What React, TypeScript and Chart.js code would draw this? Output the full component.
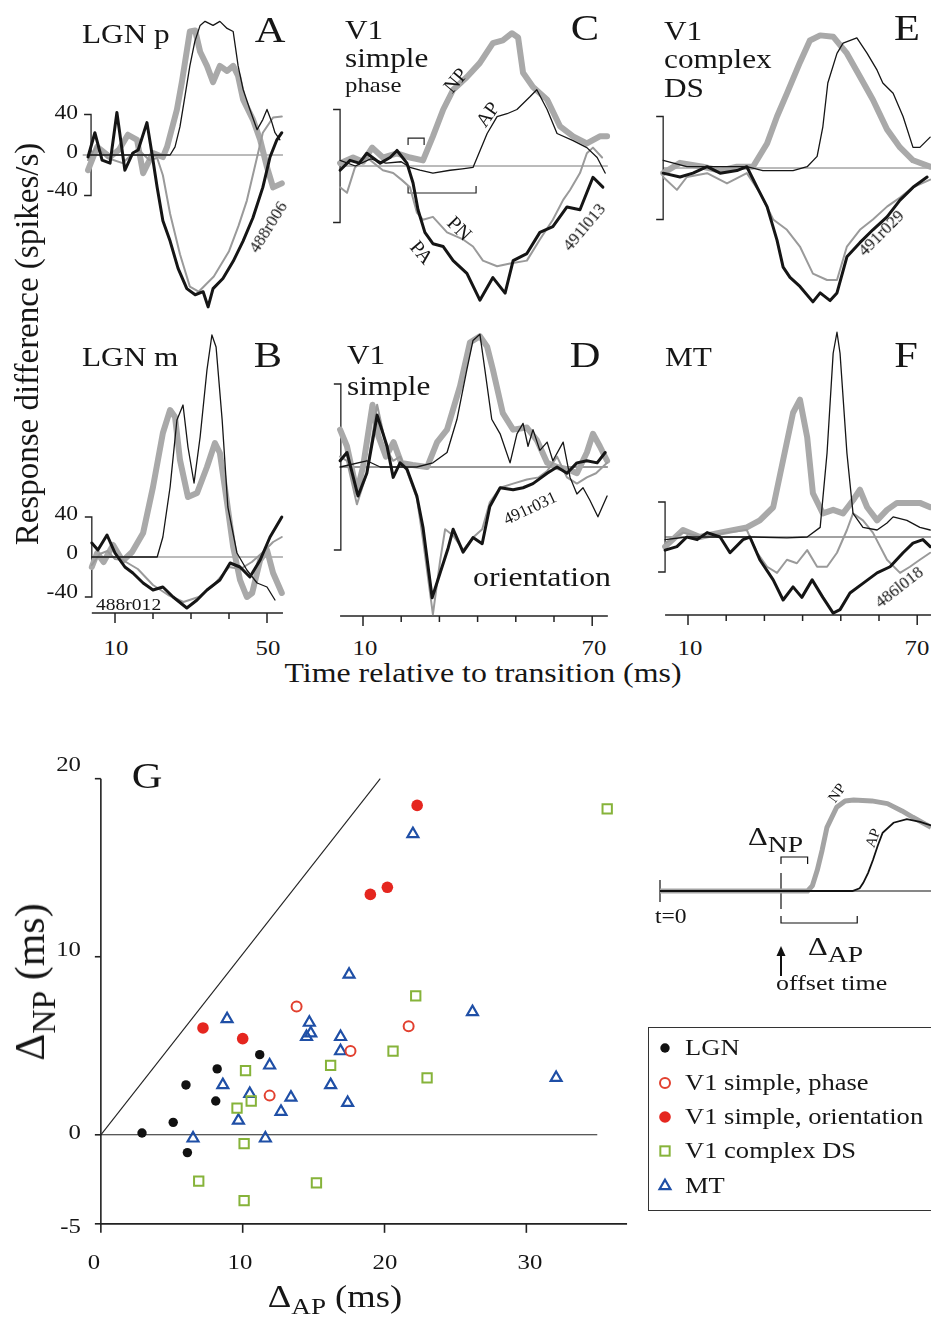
import React, { useEffect, useRef } from 'react';
import { Chart, registerables } from 'chart.js';

Chart.register(...registerables);

type Pt = [number, number];

// ---------------- Panel A (LGN p) : time (ms), response difference (spikes/s)
const A_NP: Pt[] = [[2.9,-15],[5.3,8],[8.7,-2],[11,5],[13.4,20],[15.8,15],[17.4,-18],[20.0,2],[22.6,-2],[23.7,8],[26.3,45],[27.6,72],[29.7,122],[31.1,123],[32.4,102],[34.2,88],[35.8,72],[37.6,88],[39.5,83],[41.1,88],[42.4,78],[43.7,55],[46.3,35],[48.2,15],[50.0,-12],[51.6,-32],[53.9,-28]];
const A_AP: Pt[] = [[2.9,0],[24.5,0],[25.8,8],[27.1,28],[28.4,58],[29.7,88],[31,112],[32.4,128],[33.7,132],[35.8,128],[37.6,132],[39.5,125],[41.1,122],[42.4,88],[43.7,65],[45.5,45],[47.4,25],[48.9,35],[50.0,45],[51.3,32],[52.1,22],[53.4,15]];
const A_PN: Pt[] = [[2.9,-5],[5,8],[8,-3],[12,-8],[16,6],[19,-5],[21.1,-3],[22.6,-20],[24.5,-58],[27.1,-98],[29.7,-130],[32,-135],[36,-120],[40,-95],[42.5,-70],[44.7,-45],[47.4,-2],[48.9,22],[51.6,37],[53.9,38]];
const A_PA: Pt[] = [[2.9,-2],[4.7,22],[6.6,-5],[8.7,-8],[10.5,42],[12.6,-15],[14.7,2],[16.1,5],[18.4,32],[19.7,2],[21.1,-32],[22.6,-65],[24.5,-85],[26.6,-112],[28.9,-132],[31.1,-138],[33.2,-135],[34.5,-150],[35.8,-132],[38.4,-122],[41.1,-105],[43.7,-85],[46.3,-62],[48.9,-32],[50.8,-2],[52.6,15],[53.9,22]];

// ---------------- Panel B (LGN m)
const B_NP: Pt[] = [[3.9,-10],[5.3,4],[7,-5],[9.5,12],[12,-4],[14.5,5],[17.4,24],[20,70],[22.6,124],[24.5,147],[25.8,140],[27.1,97],[29.2,60],[31.6,64],[34.2,90],[36.3,114],[37.6,104],[39.5,54],[41.1,10],[42.9,-23],[44.7,-40],[46.1,-36],[48.2,-3],[50,7],[51.6,-16],[53.9,-36]];
const B_AP: Pt[] = [[3.9,0],[21.1,0],[22.6,20],[24.5,70],[26.3,137],[27.9,152],[29.2,110],[30.8,74],[32.4,120],[34.2,187],[35.5,222],[36.6,210],[38.2,137],[39.7,50],[42.1,4],[44.7,-13],[47.4,-26],[50,-30],[52.1,-43]];
const B_PN: Pt[] = [[3.9,-8],[6,3],[8,6],[10,-2],[12,-3],[16,-12],[20,-28],[24,-38],[28,-45],[32,-40],[36,-28],[40,-10],[43,-12],[46,-5],[49,5],[51.6,15],[53.9,20]];
const B_PA: Pt[] = [[3.9,14],[5.5,7],[7.9,22],[10,4],[12.6,-10],[14.7,-16],[17.4,-26],[20,-33],[22.6,-30],[25.3,-40],[28.9,-51],[31.6,-43],[34.2,-33],[37.6,-23],[40.3,-6],[42.9,-10],[45.5,-20],[48.2,-3],[50.8,20],[53.9,40]];

// ---------------- Panel C (V1 simple phase)
const C_NP: Pt[] = [[4,2],[7.4,6],[10,3],[12.4,13],[15.2,6],[18.9,9],[22.3,6],[25.7,4],[28.3,21],[31,40],[33.6,54],[37.2,63],[40.6,73],[44,87],[46.6,89],[49,94],[50.6,91],[51.9,66],[54.5,56],[58.2,47],[61.6,28],[65,21],[68.6,16],[72,21],[73.9,21]];
const C_AP: Pt[] = [[4,4],[8,0],[12,5],[16,2],[20,3],[22.3,-1],[24.9,-3],[28.3,-5],[32.8,-3],[36,-2],[38.8,-1],[42.5,23],[45.1,35],[47.7,37],[50.3,40],[53.7,49],[55.5,54],[58.2,40],[60.8,23],[65,18],[68.6,13],[71.3,6],[73.4,-5]];
const C_PN: Pt[] = [[4,-15],[5.8,-19],[7.9,-1],[11,6],[15.2,-3],[17.9,-5],[20.2,-10],[22.3,-15],[24.1,-33],[25.7,-38],[28.3,-36],[32,-47],[36.2,-52],[38.8,-57],[41.4,-67],[45.1,-71],[48.5,-69],[52.9,-67],[56.3,-52],[59.7,-38],[62.4,-24],[64.2,-17],[66.8,-5],[68.6,9],[70.2,13],[72.6,6]];
const C_PA: Pt[] = [[4,-3],[6.6,4],[9,2],[11,9],[14.5,2],[17.1,6],[18.9,11],[21.5,2],[23.1,-12],[24.4,-31],[26.2,-47],[28.3,-55],[31,-57],[33.6,-67],[37.2,-76],[40.6,-95],[44,-79],[47.2,-90],[49.3,-67],[52.9,-62],[56.3,-47],[59.7,-43],[63.4,-29],[66.8,-31],[70.2,-8],[72.8,-15]];
// offset brackets drawn in panel C: [start ms, end ms, level]
const C_NP_BRACKET = [21.8, 26.0, 19.8];
const C_AP_BRACKET = [21.8, 39.6, -19.1];

// ---------------- Panel D (V1 simple orientation)
const D_NP: Pt[] = [[4,18],[5.8,10],[8.4,-12],[10,0],[12.5,30],[14,15],[16,5],[18,12],[20,2],[23,1],[26.8,0],[29.4,12],[32,18],[35.4,39],[38,60],[40.6,63],[42.5,58],[44,47],[46.6,26],[49.3,18],[52.9,19],[55.5,13],[58.2,2],[60.8,0],[63.4,-1],[66,-3],[68.6,7],[70.2,16],[72,10],[73.9,3]];
const D_AP: Pt[] = [[4,0],[11,3],[14.5,0],[24.1,0],[28.3,2],[32,7],[34.6,23],[37.2,47],[38.8,61],[40.6,64],[41.9,47],[43.7,23],[45.9,16],[48.5,2],[50.3,16],[51.9,21],[53.2,10],[54.5,18],[56.3,8],[58.2,12],[59.7,3],[62.4,12],[64.2,-5],[66,-13],[67.6,-10],[69.4,-16],[71.5,-24],[73.9,-14]];
const D_PN: Pt[] = [[4,5],[5.8,3],[8.4,-18],[11,-3],[13.7,30],[16.3,8],[17.9,3],[19.7,5],[21.5,-2],[24.1,-15],[25.7,-35],[28.3,-71],[30.2,-45],[31.5,-30],[33.6,-33],[36.2,-40],[38.8,-34],[41.2,-30],[43.2,-17],[45.9,-10],[49.3,-8],[52.9,-6],[56,-5],[58.2,-2],[60.8,5],[63.4,-5],[66,-8],[68.6,-5],[71,-3],[73.9,2]];
const D_PA: Pt[] = [[4,3],[5.8,7],[8.7,-14],[11,-3],[13.7,25],[16.3,10],[17.9,-5],[19.7,2],[21.5,-1],[24.1,-14],[25.7,-29],[28.1,-63],[30.2,-51],[32.3,-39],[33.6,-30],[36.2,-41],[38.8,-34],[41.2,-37],[43.2,-19],[45.9,-10],[49.3,-11],[51.9,-10],[54.5,-8],[58.2,-3],[60.8,0],[63.4,-3],[66,2],[68.6,3],[71.3,2],[73.4,7]];

// ---------------- Panel E (V1 complex DS)
const E_NP: Pt[] = [[3.5,-4],[7.9,4],[13.9,1],[18.4,-2],[22.8,1],[27,1],[30.7,19],[33.3,40],[35.9,58],[39.3,82],[41.9,99],[44.6,103],[48,102],[51.6,89],[55,71],[58.4,53],[62.1,30],[65.5,16],[68.9,6],[73.4,1]];
const E_AP: Pt[] = [[3.5,6],[9.7,1],[18.4,1],[25.4,1],[29.6,-2],[37.5,-2],[41.2,1],[43.8,9],[45.3,32],[46.6,66],[49,89],[50.6,97],[54.2,101],[56.9,89],[59.5,76],[61,66],[63.7,58],[66.3,40],[68.9,16],[70.7,16],[73.4,24]];
const E_PN: Pt[] = [[3.5,-7],[7.1,-17],[9.7,-7],[15,-4],[20.2,-12],[25.4,-4],[28.8,-19],[32.3,-40],[35.9,-48],[39.3,-61],[42.7,-82],[46.4,-87],[49,-87],[51.6,-61],[55,-48],[58.4,-40],[62.1,-30],[65.5,-23],[68.9,-15],[73.4,-9]];
const E_PA: Pt[] = [[3.5,-4],[7.9,-7],[11.3,-4],[15,1],[18.4,-4],[22.8,-2],[25.4,1],[28.1,-15],[30.7,-30],[33.3,-56],[34.9,-77],[36.7,-85],[39.3,-92],[42.7,-104],[44.6,-97],[47.2,-103],[49,-97],[51.6,-69],[55,-58],[58.4,-48],[62.1,-38],[65.5,-25],[68.9,-15],[72.6,-7]];

// ---------------- Panel F (MT)
const F_NP: Pt[] = [[4,-11],[8.7,8],[13.1,0],[18.4,5],[25.4,11],[28.8,19],[32.3,34],[34.9,88],[37.5,142],[39.3,157],[41.2,114],[42.7,50],[45.3,27],[48,31],[50.6,27],[53.2,42],[55,54],[56.9,34],[59.5,19],[62.1,31],[64.7,39],[68.1,39],[70.7,39],[73.4,34]];
const F_AP: Pt[] = [[4,-3],[9.7,0],[18.4,0],[27,0],[35.9,-1],[41.2,0],[44.6,11],[46.4,96],[48,210],[49,234],[49.8,210],[51.6,96],[53.2,27],[55.8,11],[59.5,8],[62.1,16],[63.7,23],[67.3,19],[70.7,11],[73.4,8]];
const F_PN: Pt[] = [[4,-7],[8.7,5],[13.9,0],[20.2,5],[25.4,8],[28.1,-18],[30.7,-34],[33.3,-41],[35.9,-26],[38.5,-30],[41.2,-15],[43.8,-34],[46.4,-34],[49,-18],[51.6,8],[53.2,27],[55.8,19],[58.4,5],[62.1,-26],[65.5,-41],[68.1,-34],[70.7,-26],[73.4,-18]];
const F_PA: Pt[] = [[4,-15],[7.1,-11],[9.7,0],[12.4,-3],[15,5],[18.4,0],[21,-18],[24.4,-3],[26.2,0],[28.8,-26],[32.3,-49],[34.9,-72],[37.5,-57],[39.8,-69],[42.5,-49],[45.3,-69],[48,-87],[49.8,-83],[52.4,-64],[55.8,-53],[59.5,-41],[62.9,-34],[66.3,-18],[68.9,-7],[71.5,-3],[73.4,-11]];

const LGN_TICKS = [10, 20, 30, 40, 50];
const LGN_TICK_LABELS = [10, 50];
const CORTEX_TICKS = [10, 20, 30, 40, 50, 60, 70];
const CORTEX_TICK_LABELS = [10, 70];
const SCALE_BAR = 40; // spikes/s

// ---------------- Panel G scatter: ΔAP (x, ms) vs ΔNP (y, ms)
const LGN_X = [2.9, 5.1, 6.0, 6.1, 8.1, 8.2, 11.2];
const LGN_Y = [0.1, 0.7, 2.8, -1.0, 1.9, 3.7, 4.5];
const PHASE_X = [13.8, 11.9, 17.6, 21.7];
const PHASE_Y = [7.2, 2.2, 4.7, 6.1];
const ORIENT_X = [7.2, 10.0, 19.0, 20.2, 22.3];
const ORIENT_Y = [6.0, 5.4, 13.5, 13.9, 18.5];
const DS_X = [10.2, 9.6, 10.6, 10.1, 6.9, 10.1, 15.2, 16.2, 20.6, 22.2, 23.0, 35.7];
const DS_Y = [3.6, 1.5, 1.9, -0.5, -2.6, -3.7, -2.7, 3.9, 4.7, 7.8, 3.2, 18.3];
const MT_X = [8.9, 14.7, 14.5, 14.8, 16.9, 16.9, 11.9, 8.6, 10.5, 13.4, 16.2, 17.4, 12.7, 9.7, 6.5, 11.6, 17.5, 22.0, 26.2, 32.1];
const MT_Y = [6.5, 6.3, 5.5, 5.7, 5.5, 4.7, 3.9, 2.8, 2.3, 2.1, 2.8, 1.8, 1.3, 0.8, -0.2, -0.2, 9.0, 16.9, 6.9, 3.2];
const UNITY_LINE: Pt[] = [[0, 0], [19.7, 20]];
const ZERO_LINE: Pt[] = [[0, 0], [35, 0]];
const G_X_TICKS = [0, 10, 20, 30];
const G_Y_TICKS = [-5, 0, 10, 20];
const G_X_END = 37.1;

// ---------------- schematic inset (arbitrary ms, normalised response)
const SCHEM_NP: Pt[] = [[0,0],[12.2,0],[12.6,0.06],[13,0.23],[13.4,0.45],[13.8,0.7],[14.6,0.92],[15.3,0.99],[16,1.0],[17.5,0.99],[18.8,0.96],[20,0.88],[20.9,0.81],[22.4,0.7]];
const SCHEM_AP: Pt[] = [[0,0],[15.9,0],[16.5,0.03],[16.8,0.09],[17.2,0.2],[17.6,0.34],[18,0.5],[18.4,0.64],[19.3,0.75],[20.4,0.79],[21.5,0.76],[22.4,0.72]];
const SCHEM_OFFSET = 10;
const SCHEM_NP_END = 12.2;
const SCHEM_AP_END = 16.3;
const SCHEM_END = 22.4;

const FONT = '"Liberation Serif", "Times New Roman", serif';
const SX = 1.18;

const GRAY_THICK = '#a9a9a9';
const GRAY_THIN = '#9a9a9a';
const BLACK = '#151515';

const SERIES = [
  { label: 'LGN', xs: LGN_X, ys: LGN_Y, kind: 'dot', color: '#111111', r: 4.7 },
  { label: 'V1 simple, phase', xs: PHASE_X, ys: PHASE_Y, kind: 'ring', color: '#e2402f', r: 5 },
  { label: 'V1 simple, orientation', xs: ORIENT_X, ys: ORIENT_Y, kind: 'dot', color: '#e5261f', r: 5.8 },
  { label: 'V1 complex DS', xs: DS_X, ys: DS_Y, kind: 'square', color: '#86b33a', r: 6.6 },
  { label: 'MT', xs: MT_X, ys: MT_Y, kind: 'tri', color: '#1f4fa6', r: 6.3 },
];

const toXY = (pts: Pt[]) => pts.map(([x, y]) => ({ x, y }));

function ranges(box: number[], xRef: number[], ppx: number, y0: number, ppy: number) {
  const [L, T, W, H] = box;
  return {
    xMin: xRef[1] + (L - xRef[0]) / ppx,
    xMax: xRef[1] + (L + W - xRef[0]) / ppx,
    yMax: (y0 - T) / ppy,
    yMin: (y0 - T - H) / ppy,
  };
}

const PANELS = [
  { id: 'A', box: [75, 0, 235, 322], xRef: [115, 10], ppx: 3.8, y0: 155, ppy: 1.0125, NP: A_NP, AP: A_AP, PN: A_PN, PA: A_PA, span: [1.5, 54.2], bracketT: 3.7, zero: '#777' },
  { id: 'B', box: [80, 322, 230, 310], xRef: [115, 10], ppx: 3.8, y0: 557, ppy: 1.0, NP: B_NP, AP: B_AP, PN: B_PN, PA: B_PA, span: [3.9, 54.2], bracketT: 3.9, zero: '#777', axis: { py: 613, ticks: LGN_TICKS, major: LGN_TICK_LABELS } },
  { id: 'C', box: [325, 0, 295, 322], xRef: [363, 10], ppx: 3.82, y0: 166, ppy: 1.4125, NP: C_NP, AP: C_AP, PN: C_PN, PA: C_PA, span: [4, 74.1], bracketT: 4.0, zero: '#777', marks: [[...C_NP_BRACKET, 1], [...C_AP_BRACKET, -1]] },
  { id: 'D', box: [325, 322, 295, 310], xRef: [363, 10], ppx: 3.82, y0: 467, ppy: 2.075, NP: D_NP, AP: D_AP, PN: D_PN, PA: D_PA, span: [4, 74.1], bracketT: 4.2, zero: '#333', axis: { py: 616, ticks: CORTEX_TICKS, major: CORTEX_TICK_LABELS } },
  { id: 'E', box: [645, 0, 286, 322], xRef: [688, 10], ppx: 3.82, y0: 168, ppy: 1.2875, NP: E_NP, AP: E_AP, PN: E_PN, PA: E_PA, span: [3.5, 73.6], bracketT: 3.5, zero: '#777' },
  { id: 'F', box: [645, 322, 286, 310], xRef: [688, 10], ppx: 3.82, y0: 537, ppy: 0.875, NP: F_NP, AP: F_AP, PN: F_PN, PA: F_PA, span: [4, 73.6], bracketT: 4.0, zero: '#444', axis: { py: 615, ticks: CORTEX_TICKS, major: CORTEX_TICK_LABELS } },
];

function seg(ctx: any, x1: number, y1: number, x2: number, y2: number) {
  ctx.beginPath();
  ctx.moveTo(x1, y1);
  ctx.lineTo(x2, y2);
  ctx.stroke();
}

function panelConfig(p: any) {
  const r = ranges(p.box, p.xRef, p.ppx, p.y0, p.ppy);
  const ds = (pts: Pt[], color: string, w: number, order: number) => ({
    data: toXY(pts), borderColor: color, borderWidth: w, pointRadius: 0, tension: 0, fill: false, order,
    borderJoinStyle: 'round', borderCapStyle: 'round', clip: 20,
  });
  const decor = {
    id: 'decor' + p.id,
    beforeDatasetsDraw(chart: any) {
      const { ctx, scales } = chart;
      const x = scales.x, y = scales.y;
      ctx.save();
      ctx.lineCap = 'butt';
      ctx.strokeStyle = p.zero;
      ctx.lineWidth = 1;
      const y0 = y.getPixelForValue(0);
      seg(ctx, x.getPixelForValue(p.span[0]), y0, x.getPixelForValue(p.span[1]), y0);
      ctx.strokeStyle = '#222';
      ctx.lineWidth = 1.3;
      const bx = x.getPixelForValue(p.bracketT);
      const yt = y.getPixelForValue(SCALE_BAR), yb = y.getPixelForValue(-SCALE_BAR);
      ctx.beginPath();
      ctx.moveTo(bx - 7, yt); ctx.lineTo(bx, yt); ctx.lineTo(bx, yb); ctx.lineTo(bx - 7, yb);
      ctx.stroke();
      if (p.axis) {
        const ay = p.axis.py - p.box[1];
        ctx.lineWidth = 1.5;
        seg(ctx, x.getPixelForValue(p.span[0]), ay, x.getPixelForValue(p.span[1]), ay);
        p.axis.ticks.forEach((t: number) => {
          const px = x.getPixelForValue(t);
          const len = p.axis.major.includes(t) ? 10 : 6;
          seg(ctx, px, ay, px, ay + len);
        });
      }
      if (p.marks) {
        ctx.lineWidth = 1.2;
        p.marks.forEach((m: number[]) => {
          const x1 = x.getPixelForValue(m[0]), x2 = x.getPixelForValue(m[1]), yy = y.getPixelForValue(m[2]);
          const d = 7 * m[3];
          ctx.beginPath();
          ctx.moveTo(x1, yy + d); ctx.lineTo(x1, yy); ctx.lineTo(x2, yy); ctx.lineTo(x2, yy + d);
          ctx.stroke();
        });
      }
      ctx.restore();
    },
  };
  return {
    type: 'line',
    data: {
      datasets: [
        ds(p.AP, BLACK, 1.3, 1),
        ds(p.PA, BLACK, 3, 2),
        ds(p.PN, GRAY_THIN, 2, 3),
        ds(p.NP, GRAY_THICK, 6, 4),
      ],
    },
    options: {
      responsive: false, animation: false, events: [],
      layout: { padding: 0 },
      plugins: { legend: { display: false }, tooltip: { enabled: false } },
      scales: {
        x: { type: 'linear', display: false, min: r.xMin, max: r.xMax },
        y: { type: 'linear', display: false, min: r.yMin, max: r.yMax },
      },
    },
    plugins: [decor],
  };
}

function drawMarker(ctx: any, s: any, x: number, y: number) {
  ctx.save();
  ctx.strokeStyle = s.color;
  ctx.fillStyle = s.color;
  if (s.kind === 'dot') {
    ctx.beginPath(); ctx.arc(x, y, s.r, 0, Math.PI * 2); ctx.fill();
  } else if (s.kind === 'ring') {
    ctx.lineWidth = 2; ctx.beginPath(); ctx.arc(x, y, s.r, 0, Math.PI * 2); ctx.stroke();
  } else if (s.kind === 'square') {
    const h = s.r * Math.SQRT1_2;
    ctx.lineWidth = 2; ctx.strokeRect(x - h, y - h, 2 * h, 2 * h);
  } else {
    ctx.lineWidth = 2.2;
    ctx.beginPath();
    let a = 0;
    ctx.moveTo(x + Math.sin(a) * s.r, y - Math.cos(a) * s.r);
    a += (2 * Math.PI) / 3;
    ctx.lineTo(x + Math.sin(a) * s.r, y - Math.cos(a) * s.r);
    a += (2 * Math.PI) / 3;
    ctx.lineTo(x + Math.sin(a) * s.r, y - Math.cos(a) * s.r);
    ctx.closePath();
    ctx.stroke();
  }
  ctx.restore();
}

const G_BOX = [0, 740, 931, 580];
const LEGEND_ROWS = [1048, 1083, 1117, 1151, 1186];
const LEGEND_MARK_X = 665;

function scatterConfig() {
  const r = ranges(G_BOX, [94, 0], 14.45, 1138, 18.35);
  const pointDs = SERIES.map((s, i) => ({
    label: s.label,
    data: s.xs.map((x, k) => ({ x, y: s.ys[k] })),
    pointStyle: s.kind === 'square' ? 'rect' : s.kind === 'tri' ? 'triangle' : 'circle',
    pointRadius: s.r,
    backgroundColor: s.kind === 'dot' ? s.color : 'rgba(0,0,0,0)',
    borderColor: s.color,
    pointBorderWidth: s.kind === 'dot' ? 0 : s.kind === 'tri' ? 2.2 : 2,
    order: 1 + i,
  }));
  const lineDs = (pts: Pt[]) => ({
    data: toXY(pts), showLine: true, pointRadius: 0, borderColor: '#222', borderWidth: 1.1, order: 20,
  });
  const decor = {
    id: 'gdecor',
    beforeDatasetsDraw(chart: any) {
      const { ctx, scales } = chart;
      const x = scales.x, y = scales.y;
      ctx.save();
      ctx.strokeStyle = '#222';
      ctx.lineWidth = 1.6;
      const x0 = x.getPixelForValue(0), yb = y.getPixelForValue(-5), yt = y.getPixelForValue(20);
      ctx.beginPath();
      ctx.moveTo(x0, yt); ctx.lineTo(x0, yb); ctx.lineTo(x.getPixelForValue(G_X_END), yb);
      ctx.stroke();
      G_Y_TICKS.forEach((v) => { const py = y.getPixelForValue(v); seg(ctx, x0 - 6, py, x0, py); });
      G_X_TICKS.forEach((v) => { const px = x.getPixelForValue(v); seg(ctx, px, yb, px, yb + 9); });
      ctx.restore();
    },
    afterDraw(chart: any) {
      SERIES.forEach((s, i) => drawMarker(chart.ctx, s, LEGEND_MARK_X - G_BOX[0], LEGEND_ROWS[i] - G_BOX[1]));
    },
  };
  return {
    type: 'scatter',
    data: { datasets: [...pointDs, lineDs(UNITY_LINE), lineDs(ZERO_LINE)] },
    options: {
      responsive: false, animation: false, events: [],
      layout: { padding: 0 },
      plugins: { legend: { display: false }, tooltip: { enabled: false } },
      scales: {
        x: { type: 'linear', display: false, min: r.xMin, max: r.xMax },
        y: { type: 'linear', display: false, min: r.yMin, max: r.yMax },
      },
    },
    plugins: [decor],
  };
}

const S_BOX = [640, 780, 291, 205];

function schematicConfig() {
  const r = ranges(S_BOX, [660, 0], 12.1, 891, 91);
  const decor = {
    id: 'sdecor',
    beforeDatasetsDraw(chart: any) {
      const { ctx, scales } = chart;
      const x = scales.x, y = scales.y;
      ctx.save();
      ctx.strokeStyle = '#111';
      ctx.lineWidth = 1.2;
      const y0 = y.getPixelForValue(0);
      seg(ctx, x.getPixelForValue(0), y0, x.getPixelForValue(SCHEM_END), y0);
      const xs = x.getPixelForValue(0), xo = x.getPixelForValue(SCHEM_OFFSET);
      seg(ctx, xs, y0 - 11, xs, y0 + 11);
      seg(ctx, xo, y0 - 18, xo, y0 + 18);
      const xn = x.getPixelForValue(SCHEM_NP_END), xa = x.getPixelForValue(SCHEM_AP_END);
      const yn = 857 - S_BOX[1], ya = 923 - S_BOX[1];
      ctx.beginPath(); ctx.moveTo(xo, yn + 7); ctx.lineTo(xo, yn); ctx.lineTo(xn, yn); ctx.lineTo(xn, yn + 7); ctx.stroke();
      ctx.beginPath(); ctx.moveTo(xo, ya - 7); ctx.lineTo(xo, ya); ctx.lineTo(xa, ya); ctx.lineTo(xa, ya - 7); ctx.stroke();
      // arrow marking the offset time
      const a1 = 976 - S_BOX[1], a2 = 946 - S_BOX[1];
      ctx.lineWidth = 2;
      seg(ctx, xo, a1, xo, a2 + 6);
      ctx.fillStyle = '#111';
      ctx.beginPath(); ctx.moveTo(xo, a2); ctx.lineTo(xo - 4.5, a2 + 10); ctx.lineTo(xo + 4.5, a2 + 10); ctx.closePath(); ctx.fill();
      ctx.restore();
    },
  };
  return {
    type: 'line',
    data: {
      datasets: [
        { data: toXY(SCHEM_AP), borderColor: '#111', borderWidth: 1.8, pointRadius: 0, tension: 0, order: 1, clip: 10 },
        { data: toXY(SCHEM_NP), borderColor: '#a3a3a3', borderWidth: 5, pointRadius: 0, tension: 0, order: 2, clip: 10, borderJoinStyle: 'round' },
      ],
    },
    options: {
      responsive: false, animation: false, events: [],
      layout: { padding: 0 },
      plugins: { legend: { display: false }, tooltip: { enabled: false } },
      scales: {
        x: { type: 'linear', display: false, min: r.xMin, max: r.xMax },
        y: { type: 'linear', display: false, min: r.yMin, max: r.yMax },
      },
    },
    plugins: [decor],
  };
}

function ChartCanvas({ box, make }: { box: number[]; make: () => any }) {
  const ref = useRef<HTMLCanvasElement | null>(null);
  useEffect(() => {
    const chart = new Chart(ref.current as HTMLCanvasElement, make());
    return () => chart.destroy();
  }, []);
  const [left, top, width, height] = box;
  return <canvas ref={ref} width={width} height={height} style={{ position: 'absolute', left, top, width, height }} />;
}

function T({ x, y, s, a = 'l', r = 0, sx = SX, children }: any) {
  const tx = a === 'l' ? '0' : a === 'r' ? '-100%' : '-50%';
  const origin = a === 'l' ? 'left center' : a === 'r' ? 'right center' : 'center center';
  return (
    <div
      style={{
        position: 'absolute', left: x, top: y, fontSize: s, lineHeight: 1, whiteSpace: 'nowrap',
        fontFamily: FONT, color: '#161616',
        transform: `translate(${tx},-50%) rotate(${r}deg) scaleX(${sx})`, transformOrigin: origin,
      }}
    >
      {children}
    </div>
  );
}

const Sub = ({ children, k = 0.74 }: any) => (
  <span style={{ fontSize: `${k}em`, position: 'relative', top: '0.32em' }}>{children}</span>
);

export default function App() {
  return (
    <div style={{ position: 'absolute', left: 0, top: 0, width: 931, height: 1320, overflow: 'hidden', background: '#fff' }}>
      {PANELS.map((p) => (
        <ChartCanvas key={p.id} box={p.box} make={() => panelConfig(p)} />
      ))}
      <ChartCanvas box={G_BOX} make={scatterConfig} />
      <ChartCanvas box={S_BOX} make={schematicConfig} />

      {/* panel titles */}
      <T x={82} y={34} s={26.5}>LGN p</T>
      <T x={270} y={30} s={36} a="c">A</T>
      <T x={345} y={30} s={26.5}>V1</T>
      <T x={345} y={58} s={26.5}>simple</T>
      <T x={345} y={85} s={21}>phase</T>
      <T x={585} y={28} s={36} a="c">C</T>
      <T x={664} y={31} s={26.5}>V1</T>
      <T x={664} y={59} s={26.5}>complex</T>
      <T x={664} y={88} s={26.5}>DS</T>
      <T x={907} y={28} s={36} a="c">E</T>
      <T x={82} y={357} s={26.5}>LGN m</T>
      <T x={268} y={355} s={36} a="c">B</T>
      <T x={347} y={355} s={26.5}>V1</T>
      <T x={347} y={386} s={26.5}>simple</T>
      <T x={585} y={355} s={36} a="c">D</T>
      <T x={665} y={357} s={26.5}>MT</T>
      <T x={906} y={355} s={36} a="c">F</T>

      {/* scale bar labels */}
      <T x={78} y={112} s={20} a="r">40</T>
      <T x={78} y={151} s={20} a="r">0</T>
      <T x={78} y={189} s={20} a="r">-40</T>
      <T x={78} y={513} s={20} a="r">40</T>
      <T x={78} y={552} s={20} a="r">0</T>
      <T x={78} y={591} s={20} a="r">-40</T>

      {/* time tick labels */}
      <T x={116} y={648} s={21} a="c">10</T>
      <T x={268} y={648} s={21} a="c">50</T>
      <T x={365} y={648} s={21} a="c">10</T>
      <T x={594} y={648} s={21} a="c">70</T>
      <T x={690} y={648} s={21} a="c">10</T>
      <T x={917} y={648} s={21} a="c">70</T>
      <T x={483} y={673} s={27} a="c">Time relative to transition (ms)</T>
      <T x={27} y={344} s={33} a="c" r={-90} sx={1}>Response difference (spikes/s)</T>

      {/* cell ids and curve labels */}
      <T x={268} y={227} s={17} a="c" r={-58} sx={1}>488r006</T>
      <T x={584} y={227} s={17} a="c" r={-50} sx={1}>491l013</T>
      <T x={881} y={233} s={17} a="c" r={-45} sx={1}>491r029</T>
      <T x={96} y={604} s={17} sx={1.15}>488r012</T>
      <T x={530} y={508} s={17} a="c" r={-25} sx={1}>491r031</T>
      <T x={899} y={587} s={17} a="c" r={-38} sx={1}>486l018</T>
      <T x={473} y={577} s={27}>orientation</T>
      <T x={455} y={80} s={20} a="c" r={-50} sx={1}>NP</T>
      <T x={487} y={114} s={20} a="c" r={-55} sx={1}>AP</T>
      <T x={460} y={228} s={20} a="c" r={45} sx={1}>PN</T>
      <T x={422} y={252} s={20} a="c" r={50} sx={1}>PA</T>

      {/* panel G */}
      <T x={147} y={776} s={36} a="c">G</T>
      <T x={81} y={764} s={21} a="r">20</T>
      <T x={81} y={949} s={21} a="r">10</T>
      <T x={81} y={1132} s={21} a="r">0</T>
      <T x={81} y={1226} s={21} a="r">-5</T>
      <T x={94} y={1262} s={21} a="c">0</T>
      <T x={240} y={1262} s={21} a="c">10</T>
      <T x={385} y={1262} s={21} a="c">20</T>
      <T x={530} y={1262} s={21} a="c">30</T>
      <T x={335} y={1296} s={31} a="c">Δ<Sub>AP</Sub> (ms)</T>
      <T x={30} y={982} s={42} a="c" r={-90} sx={1}>Δ<Sub k={0.8}>NP</Sub> (ms)</T>

      {/* schematic */}
      <T x={748} y={837} s={26}>Δ<Sub k={0.9}>NP</Sub></T>
      <T x={808} y={947} s={26}>Δ<Sub k={0.9}>AP</Sub></T>
      <T x={655} y={916} s={20}>t=0</T>
      <T x={776} y={983} s={22}>offset time</T>
      <T x={837} y={793} s={15} a="c" r={-55} sx={1}>NP</T>
      <T x={873} y={838} s={15} a="c" r={-70} sx={1}>AP</T>

      {/* legend */}
      <div style={{ position: 'absolute', left: 648, top: 1027, width: 320, height: 184, border: '1.2px solid #333', boxSizing: 'border-box' }} />
      {SERIES.map((s, i) => (
        <T key={s.label} x={685} y={LEGEND_ROWS[i]} s={22.5}>{s.label}</T>
      ))}
    </div>
  );
}
